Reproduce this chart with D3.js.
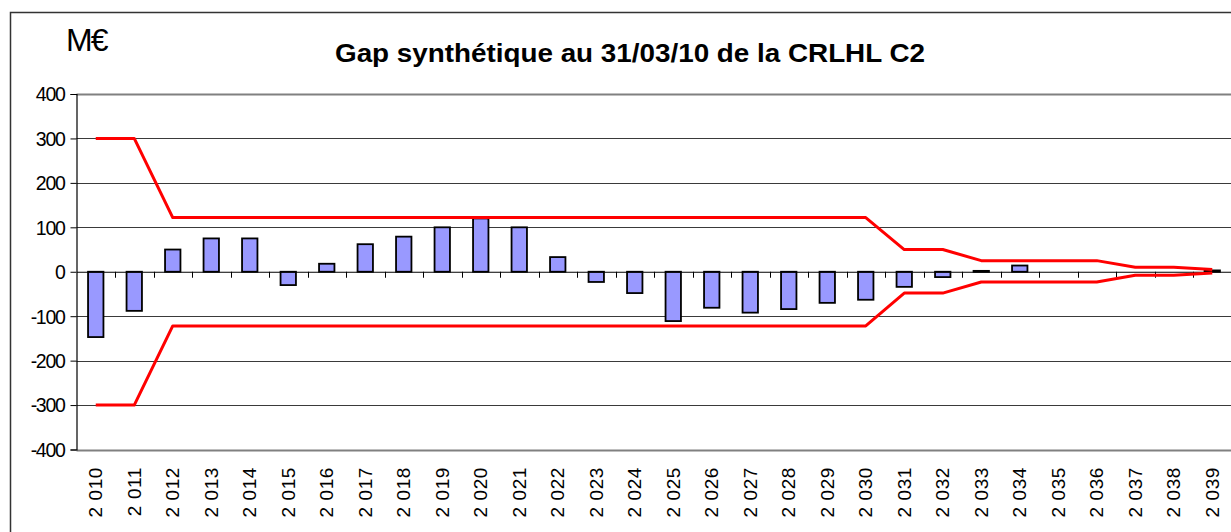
<!DOCTYPE html>
<html><head><meta charset="utf-8">
<script src="https://cdn.jsdelivr.net/npm/d3@7"></script>
<style>body{margin:0;background:#fff;} svg{display:block;font-family:"Liberation Sans",Arial,sans-serif;}</style>
</head><body>
<svg id="c" width="1231" height="532"></svg>
<script>
const categories = ["2 010","2 011","2 012","2 013","2 014","2 015","2 016","2 017","2 018","2 019",
  "2 020","2 021","2 022","2 023","2 024","2 025","2 026","2 027","2 028","2 029",
  "2 030","2 031","2 032","2 033","2 034","2 035","2 036","2 037","2 038","2 039"];
const gapValues = [-147,-88,50,75,75,-30,18,62,79,100,
  120,100,33,-23,-48,-111,-81,-92,-84,-70,
  -63,-34,-12,2,14,0,0,0,0,3];
const upperLimit = [300,300,122,122,122,122,122,122,122,122,
  122,122,122,122,122,122,122,122,122,122,
  122,50,50,25,25,25,25,10,10,5];
const lowerLimit = [-300,-300,-122,-122,-122,-122,-122,-122,-122,-122,
  -122,-122,-122,-122,-122,-122,-122,-122,-122,-122,
  -122,-48,-48,-23,-23,-23,-23,-8,-8,-3];
const yTicks = [400,300,200,100,0,-100,-200,-300,-400];
const yTickLabels = ["400","300","200","100","0","-100","-200","-300","-400"];
const titleText = "Gap synthétique au 31/03/10 de la CRLHL C2";
const unitText = "M€";

const svg = d3.select("#c");
const pLeft = 76.5, pRight = 1231.5, pTop = 94, pBottom = 449.5;
const x = d3.scaleBand().domain(categories).range([pLeft, pRight]).padding(0);
const y = d3.scaleLinear().domain([-400, 400]).range([pBottom, pTop]);

// outer frame
svg.append("path").attr("d", `M10.5,540 L10.5,12.5 L1240,12.5`).attr("fill","none").attr("stroke","#333").attr("stroke-width",1.5);

// gridlines
svg.append("g").selectAll("line").data(yTicks.filter(d => d !== 0)).join("line")
  .attr("x1", pLeft).attr("x2", pRight)
  .attr("y1", d => Math.round(y(d)) + 0.5).attr("y2", d => Math.round(y(d)) + 0.5)
  .attr("stroke", d => (d === 400 || d === -400) ? "#808080" : "#3a3a3a")
  .attr("stroke-width", d => (d === 400 || d === -400) ? 2 : 1);

// y axis
const yAxis = d3.axisLeft(y).tickValues(yTicks).tickSize(6).tickPadding(6)
  .tickFormat((d, i) => yTickLabels[i]);
const gy = svg.append("g").attr("transform", `translate(${pLeft},0)`).call(yAxis);
gy.select(".domain").attr("stroke", "#000").attr("stroke-width", 1.2);
gy.selectAll(".tick line").attr("stroke", "#000");
gy.selectAll(".tick text").style("font-size", "19.5px").attr("fill", "#000")
  .style("font-family", "Liberation Sans, Arial, sans-serif").attr("letter-spacing", -1.3)
  .attr("dy", "0.35em");

// bars
const bw = x.bandwidth() * 0.4;
svg.append("g").selectAll("rect").data(categories.map((c, i) => ({c, v: gapValues[i]})).filter(d => d.v !== 0)).join("rect")
  .attr("x", d => x(d.c) + x.bandwidth() / 2 - bw / 2)
  .attr("width", bw)
  .attr("y", d => y(Math.max(0, d.v)))
  .attr("height", d => Math.max(1, Math.abs(y(d.v) - y(0))))
  .attr("fill", "#9999ff").attr("stroke", "#000").attr("stroke-width", 1.8);

// zero axis with ticks
const xAxis = d3.axisBottom(x).tickSize(0).tickFormat("");
const gx = svg.append("g").attr("transform", `translate(0,${y(0)})`).call(xAxis);
gx.select(".domain").attr("stroke", "#000").attr("stroke-width", 1.2);
svg.append("g").selectAll("line").data(categories.slice(1)).join("line")
  .attr("x1", d => Math.round(x(d)) + 0.5).attr("x2", d => Math.round(x(d)) + 0.5)
  .attr("y1", y(0)).attr("y2", y(0) + 6).attr("stroke", "#000").attr("stroke-width", 1);

// limit lines
const line = d3.line().x((d, i) => x(categories[i]) + x.bandwidth() / 2).y(d => y(d));
[upperLimit, lowerLimit].forEach(arr => {
  svg.append("path").datum(arr).attr("d", line).attr("fill", "none")
    .attr("stroke", "#ff0000").attr("stroke-width", 3).attr("stroke-linejoin", "round");
});

// x labels (rotated)
svg.append("g").selectAll("text").data(categories).join("text")
  .attr("transform", d => `translate(${x(d) + x.bandwidth() / 2 + 6.5},467) rotate(-90)`)
  .attr("text-anchor", "end").attr("font-size", 19).attr("letter-spacing", 0.6)
  .attr("fill", "#000").text(d => d);

// title
svg.append("text").attr("x", 630).attr("y", 62).attr("text-anchor", "middle")
  .attr("font-size", 26).attr("font-weight", "bold").attr("fill", "#000")
  .attr("textLength", 590).attr("lengthAdjust", "spacingAndGlyphs")
  .text(titleText);

// unit
svg.append("text").attr("x", 66).attr("y", 51).attr("font-size", 32)
  .attr("letter-spacing", -2).attr("fill", "#000").text(unitText);
</script>
</body></html>
